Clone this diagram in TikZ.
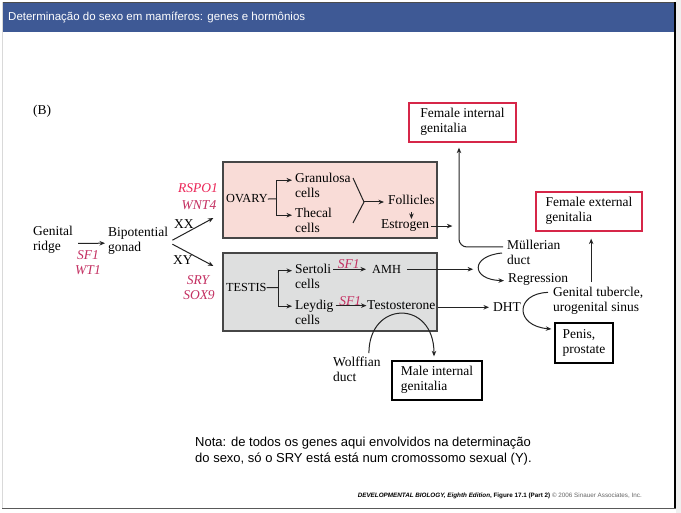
\documentclass[tikz,border=0pt]{standalone}
\usepackage{fontspec}
\setmainfont{Liberation Serif}
\newfontfamily\slidefont{Liberation Sans}
\usetikzlibrary{arrows.meta,calc,shadows}
\definecolor{titlebg}{RGB}{62,89,149}
\definecolor{pinkfill}{RGB}{249,220,215}
\definecolor{grayfill}{RGB}{222,223,223}
\definecolor{boxline}{RGB}{70,70,70}
\definecolor{linec}{RGB}{35,35,35}
\definecolor{genered}{RGB}{196,48,98}
\definecolor{genebright}{RGB}{236,38,88}
\definecolor{redbox}{RGB}{214,38,72}
\definecolor{redshadow}{RGB}{150,25,50}
\newcommand\TL[2]{#1\strut\\#2\strut}
\begin{document}
\begin{tikzpicture}[x=1pt,y=-1pt,
  every node/.style={inner sep=0pt},
  txt/.style={anchor=base west, font=\fontsize{13.5}{15}\selectfont},
  caps/.style={anchor=base west, font=\fontsize{12.3}{15}\selectfont},
  two/.style={anchor=north west, align=left, font=\fontsize{13.5}{15}\selectfont},
  gene/.style={font=\itshape\fontsize{13.5}{15}\selectfont, text=genered},
  ln/.style={line width=1pt, draw=linec},
  arr/.style={ln, -{Stealth[length=5.5pt,width=4.5pt]}},
  organ/.style={draw=boxline, line width=1.2pt, minimum width=214, minimum height=76},
  result/.style={draw=black, line width=1.3pt, fill=white, align=left,
    font=\fontsize{13.5}{15}\selectfont,
    drop shadow={shadow xshift=1.4pt, shadow yshift=-1.4pt, opacity=1, fill=black}},
  fresult/.style={result, draw=redbox,
    drop shadow={shadow xshift=1.4pt, shadow yshift=-1.4pt, opacity=1, fill=redshadow}},
]
\useasboundingbox (0,0) rectangle (681,513);
\fill[white] (0,0) rectangle (681,513);
\fill[gray!12] (676,0) rectangle (681,513);
\fill[titlebg] (3,3) rectangle (675,32);
\draw[gray!60!black, line width=1.5pt] (2,2.5) -- (675,2.5);
\draw[black, line width=1.2pt] (675,2) -- (675,509);
\draw[gray!70!black, line width=1.5pt] (2,508.5) -- (675.5,508.5);
\draw[gray!30, line width=1pt] (2.5,2) -- (2.5,508);

\node[anchor=base west, text=white, font=\slidefont\fontsize{11.5}{14}\selectfont] (title) at (8,20.5) {Determinação do sexo em mamíferos: genes e hormônios};

% organ boxes
\node[organ, fill=pinkfill] (ovary) at (330,200) {};
\node[organ, fill=grayfill, minimum height=78] (testis) at (330,292) {};

\node[txt] (B) at (33,114.5) {(B)};

% left part
\node[two] (ridge) at (33,225.2) {\TL{Genital}{ridge}};
\node[two] (gonad) at (108,226) {\TL{Bipotential}{gonad}};
\node[gene, anchor=north, align=center] (g1) at (88,248.5) {\TL{SF1}{WT1}};
\draw[arr] ([shift={(5,3)}]ridge.east) -- ([shift={(-3,2)}]gonad.west);

\node[gene, anchor=base, text=genebright] (rspo) at (198,193) {RSPO1};
\node[gene, anchor=base] (wnt) at (199,210) {WNT4};
\node[gene, anchor=base] (sry) at (198,285) {SRY};
\node[gene, anchor=base] (sox) at (199,299.5) {SOX9};
\node[txt] (xx) at (174,229) {XX};
\node[txt] (xy) at (173,265) {XY};
\draw[arr] ([shift={(4,-1)}]gonad.east) -- ([shift={(-9,18)}]ovary.west);
\draw[arr] ([shift={(4,3)}]gonad.east) -- ([shift={(-9,-26)}]testis.west);

% ovary contents
\node[caps] (ovt) at (226,203) {OVARY};
\node[two] (gran) at (295,171.5) {\TL{Granulosa}{cells}};
\node[two] (thec) at (295,206.5) {\TL{Thecal}{cells}};
\coordinate (oj) at (276,198.8);
\draw[ln] (ovt.east) -- (oj);
\draw[arr] (oj) |- ([shift={(-3,-6.5)}]gran.west);
\draw[arr] (oj) |- ([shift={(-3,-6.5)}]thec.west);
\coordinate (vt) at (364,202);
\draw[ln] ($(vt)+(-11,-24)$) -- (vt) -- ($(vt)+(-11,21)$);
\node[txt] (foll) at (388,205) {Follicles};
\draw[arr, shorten >=4pt] (vt) -- (vt -| foll.west);
\node[txt] (estr) at (381,229) {Estrogen};
\draw[arr] ($(foll.south)+(0,6.5)$) -- ($(foll.south |- estr.north)+(0,-1)$);
\draw[arr] ([shift={(2,0)}]estr.east) -- ++(21,0);

% testis contents
\node[caps] (tt) at (226,291.7) {TESTIS};
\coordinate (tj) at (278,287.5);
\draw[ln] (tt.east) -- (tj);
\node[two] (sert) at (295,263) {\TL{Sertoli}{cells}};
\node[two] (leyd) at (295,298.5) {\TL{Leydig}{cells}};
\draw[arr] (tj) |- ([shift={(-3,-7.5)}]sert.west);
\draw[arr] (tj) |- ([shift={(-3,-7.5)}]leyd.west);
\node[caps] (amh) at (372,273.3) {AMH};
\draw[arr, shorten <=2pt] (sert.east |- amh.west) -- ([shift={(-6,0)}]amh.west)
  node[gene, midway, above] (sf1a) {SF1};
\node[txt] (testo) at (367,310) {Testosterone};
\draw[arr, shorten <=2pt, shorten >=0.5pt] (leyd.east |- testo.west) -- (testo.west)
  node[gene, midway, above] (sf1b) {SF1};
\draw[arr] ([shift={(6,0)}]amh.east) -- ++(66,0);
\node[txt] (dht) at (493,311.7) {DHT};
\draw[arr, shorten >=4pt] (testis.east |- dht.west) -- (dht.west);

% result boxes
\node[fresult, minimum width=107, minimum height=39] (fint) at (462.5,122.5) {\TL{Female internal}{genitalia}};
\node[fresult, minimum width=106, minimum height=39] (fext) at (589,211.5) {\TL{Female external}{genitalia}};
\node[result, minimum width=90, minimum height=39] (male) at (437,380.5) {\TL{Male internal}{genitalia}};
\node[result, minimum width=58, minimum height=40] (penis) at (584,343) {\TL{Penis,}{prostate}};

% Mullerian
\node[two] (mull) at (507,238.8) {\TL{Müllerian}{duct}};
\node[txt] (regr) at (508,282.7) {Regression};
\draw[arr, rounded corners=8pt] ([shift={(-4,-7)}]mull.west) -| ($(fint.south)+(-3.5,5)$);
\draw[arr] ([shift={(-5,-1)}]mull.west) .. controls +(-32,3) and +(-33,-1) .. ([shift={(-4,1)}]regr.west);

% genital tubercle
\node[two] (gtub) at (553,286.2) {\TL{Genital tubercle,}{urogenital sinus}};
\draw[arr] ($(gtub.north)+(-7,-4)$) -- ($(gtub.north |- fext.south)+(-7,7)$);
\draw[arr] ([shift={(-5,-9)}]gtub.west) .. controls +(-33,1) and +(-37,-3) .. ([shift={(-3,-14)}]penis.west);

% Wolffian
\node[two] (wolff) at (333,356.2) {\TL{Wolffian}{duct}};
\draw[arr] ($(wolff.north)+(12,-3)$) .. controls +(0,-53) and +(0,-57) .. ($(male.north)+(-3,-4)$);

% note and footer
\node[anchor=north west, align=left, font=\slidefont\fontsize{13}{16}\selectfont] (nota) at (195,434.8)
  {\TL{Nota: de todos os genes aqui envolvidos na determinação}{do sexo, só o SRY está está num cromossomo sexual (Y).}};
\node[anchor=base east, font=\slidefont\fontsize{6.3}{7.5}\selectfont] (foot) at (642,497)
  {\textbf{\textit{DEVELOPMENTAL BIOLOGY, Eighth Edition}, Figure 17.1 (Part 2)} \textcolor{black!60}{© 2006 Sinauer Associates, Inc.}};
\end{tikzpicture}
\end{document}
